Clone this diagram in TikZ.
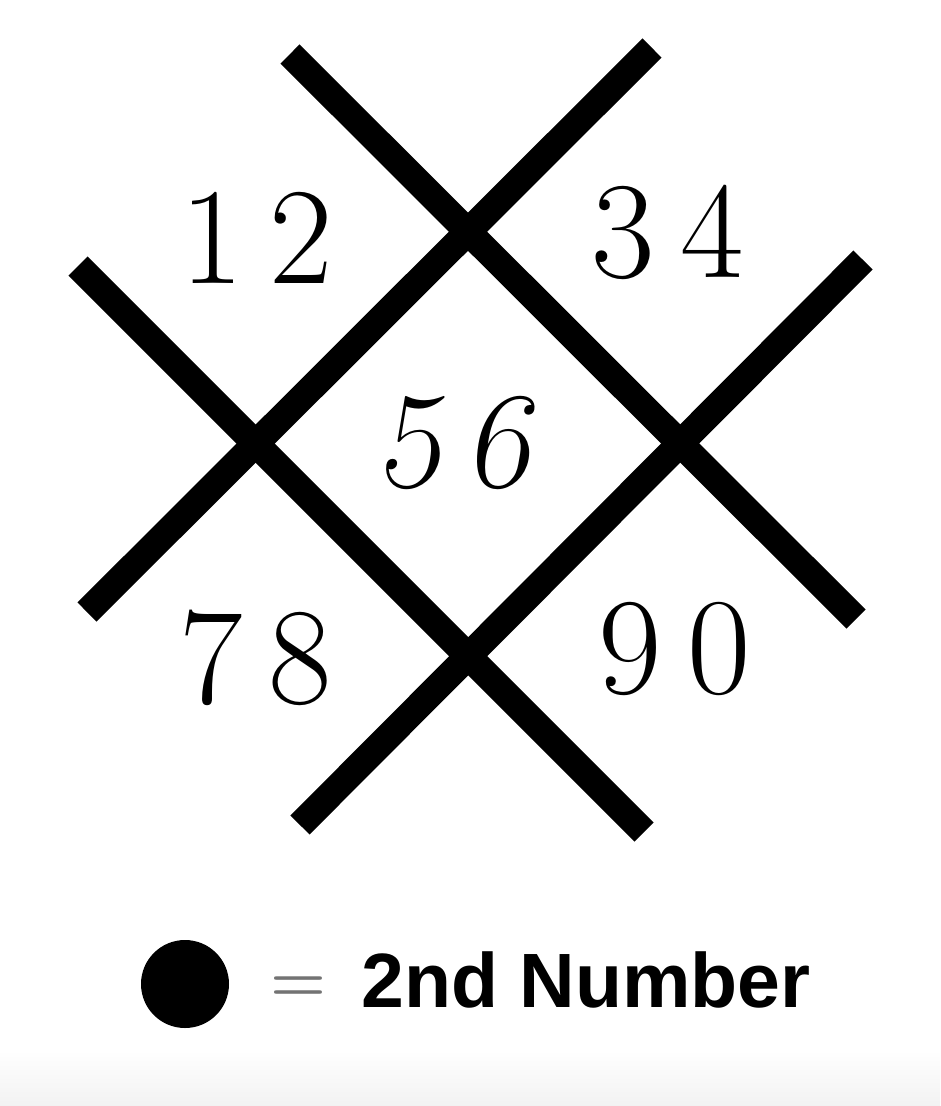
\documentclass[tikz,border=0pt]{standalone}
\usepackage{fontspec}
\newfontfamily\labfont{Liberation Sans}
\begin{document}
\begin{tikzpicture}[x=1pt,y=-1pt,
  gridline/.style={line width=27pt, black},
  digits/.style={anchor=base, inner sep=0pt, font=\fontsize{138}{140}\selectfont},
  legendtext/.style={anchor=base, inner sep=0pt, font=\labfont\bfseries\fontsize{77}{80}\selectfont}]
\useasboundingbox (0,0) rectangle (940,1106);
\shade[top color=white, bottom color=black!5] (0,1050) rectangle (940,1106);
% line end points
\coordinate (a1) at (290,54);  \coordinate (a2) at (856,619);
\coordinate (b1) at (78,266);  \coordinate (b2) at (644,832);
\coordinate (c1) at (652,48);  \coordinate (c2) at (87,612);
\coordinate (d1) at (863,260); \coordinate (d2) at (300,825);
\draw[gridline] (a1) -- (a2);
\draw[gridline] (b1) -- (b2);
\draw[gridline] (c1) -- (c2);
\draw[gridline] (d1) -- (d2);
% numbers
\node[digits] (n12) at (257,283) {1\hspace{26pt}2};
\node[digits] (n34) at (668,277) {3\hspace{26pt}4};
\node[digits] (n56) at (454,487) {\slshape 5\hspace{26pt}6};
\node[digits] (n78) at (256,703) {7\hspace{26pt}8};
\node[digits] (n90) at (675,693) {9\hspace{26pt}0};
% legend
\node[circle, fill=black, minimum size=88pt, inner sep=0pt] (dot) at (185,984) {};
\node[anchor=base, inner sep=0pt, text=black!55, font=\bfseries\fontsize{64}{64}\selectfont] (eq) at (298,1001) {=};
\node[legendtext] (lab) at (586,1007) {2nd Number};
\end{tikzpicture}
\end{document}
